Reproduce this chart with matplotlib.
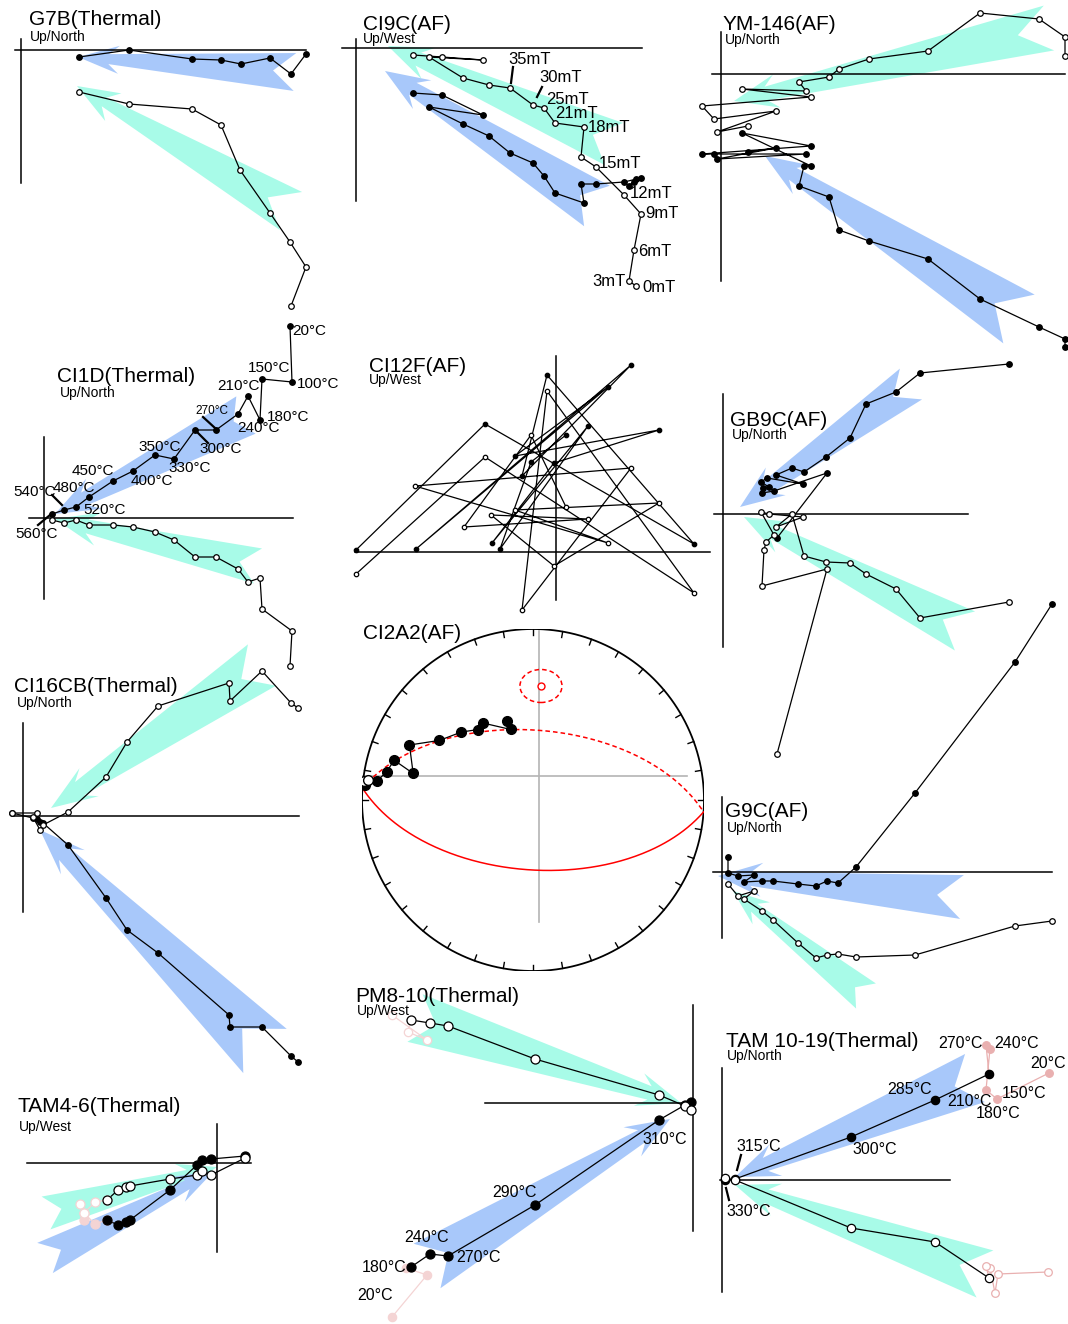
import numpy as np
import matplotlib
matplotlib.use("Agg")
import matplotlib.pyplot as plt
from matplotlib.patches import Polygon, Ellipse

plt.rcParams["font.family"] = ["Liberation Sans", "DejaVu Sans"]

W, H = 1068, 1324
BLUE = "#a8c8fa"
AQUA = "#a8fbe8"
PINK = "#e9b0b0"
PALE = "#f4d4d4"

# ---- demagnetisation data (projection units, origin at axis crossing) ----
# G7B (thermal)
g7b_hx = [58, 108, 171, 200, 220, 249, 270, 285]
g7b_hy = [-7, 0, -9, -10, -14, -8, -24, -4]
g7b_vx = [58, 108, 171, 200, 219, 249, 269, 285, 270]
g7b_vy = [-42, -54, -59, -75, -120, -163, -192, -217, -256]

# CI9C (AF), 0 mT first
ci9c_x = [280, 273, 278, 285, 268, 240, 225, 228, 199, 188, 177, 154, 133, 107, 73, 127, 86, 57]
ci9c_hy = [-131, -138, -134, -130, -134, -136, -136, -155, -145, -128, -115, -105, -88, -76, -59, -67, -47, -45]
ci9c_vy = [-238, -233, -202, -166, -147, -119, -109, -79, -75, -60, -57, -40, -37, -30, -9, -12, -9, -7]

# YM-146 (AF)
ym_hx = [344, 344, 318, 259, 207, 148, 118, 108, 78, 83, 90, 21, 90, -19, -7, 85, -4, 55, 27]
ym_hy = [-273, -265, -253, -225, -185, -167, -156, -123, -112, -92, -92, -59, -72, -80, -80, -80, -85, -74, -78]
ym_vx = [344, 344, 318, 259, 207, 148, 118, 108, 78, 85, 21, 90, -19, -7, 55, -4, 27]
ym_vy = [18, 37, 55, 61, 23, 15, 5, -3, -8, -17, -15, -23, -32, -45, -37, -58, -52]

# CI1D (thermal), 20 C first
ci1d_x = [246, 248, 218, 216, 204, 194, 172, 151, 130, 111, 89, 69, 45, 32, 20, 8]
ci1d_hy = [192, 136, 139, 98, 122, 104, 88, 88, 59, 63, 47, 37, 21, 11, 8, 4]
ci1d_vy = [-148, -113, -91, -60, -64, -51, -39, -39, -22, -14, -9, -7, -7, -2, -5, -2]

# CI12F (AF)
ci12_hx = [-200, -71, 138, -9, -34, 75, -140, 52, -41, 103, -2, -64, 32, -56, -25, 10]
ci12_hy = [2, 128, 8, 177, 76, 187, 3, 165, 96, 122, 89, 9, 126, 3, 90, 117]
ci12_vx = [-200, -71, 138, -9, -34, 75, -141, 52, -41, 103, -2, -65, 32, -92, -25, 10]
ci12_vy = [-22, 95, -41, 161, -58, 84, 66, 9, 42, 49, -14, 37, 33, 25, 117, 45]

# GB9C (AF)
gb_hx = [286, 197, 173, 143, 127, 103, 81, 69, 53, 80, 44, 38, 46, 40, 39, 51, 104, 54]
gb_hy = [150, 141, 122, 110, 76, 57, 42, 46, 39, 30, 36, 32, 27, 26, 21, 23, 41, -24]
gb_vx = [286, 197, 173, 143, 127, 103, 81, 69, 53, 80, 46, 38, 51, 43, 41, 39, 104, 54]
gb_vy = [-88, -104, -75, -60, -49, -48, -42, 0, -13, -3, 0, 2, -21, -28, -36, -72, -55, -240]

# CI16CB (thermal)
ci16_x = [275, 268, 239, 207, 206, 135, 104, 83, 45, 20, 17, 10, 14, -11]
ci16_hy = [-246, -240, -211, -211, -199, -137, -114, -82, -29, -7, -6, -2, -3, 3]
ci16_vy = [108, 113, 145, 115, 133, 110, 74, 39, 4, -9, -14, -1, 3, 3]

# CI2A2 (AF) directions
ci2_dec_up = [276.5, 277.0]
ci2_inc_up = [-0.5, -3.0]
ci2_dec = [275, 277, 281, 286, 282.5, 294, 302.5, 313.5, 322, 327, 342.5, 342]
ci2_inc = [1.6, 9, 14, 16.6, 29, 22, 35.4, 41.8, 46.6, 45.4, 54.4, 50]
ci2_pole = (4.0, 33.6)

# G9C (AF)
g9_hx = [330, 293, 193, 134, 116, 105, 94, 76, 51, 40, 22, 32, 16, 6, 6]
g9_hy = [268, 210, 79, 5, -11, -9, -14, -12, -9, -9, -10, -3, -4, -1, 15]
g9_vx = [330, 293, 193, 134, 116, 105, 94, 76, 51, 40, 22, 32, 16, 6]
g9_vy = [-49, -54, -83, -85, -82, -83, -86, -71, -48, -39, -27, -19, -24, -12]

# PM8-10 (thermal)
pm_x = [-282, -263, -245, -158, -34, -8, -2]
pm_hy = [-164, -151, -153, -102, -17, -2, 1]
pm_vy = [83, 80, 77, 44, 8, -3, -7]
pm_low_hx = [-301, -266, -287]
pm_low_hy = [-214, -172, -165]
pm_low_vx = [-301, -266, -285]
pm_low_vy = [88, 63, 71]

# TAM 10-19 (thermal)
tam_x = [267, 213, 129, 13, 3]
tam_hy = [106, 80, 43, 1, 0]
tam_vy = [-98, -62, -48, 0, 2]
tam_low_hx = [327, 275, 264, 268, 264]
tam_low_hy = [107, 81, 90, 131, 135]
tam_low_vx = [326, 276, 273, 268, 264]
tam_low_vy = [-92, -94, -113, -88, -86]

# TAM4-6 (thermal)
t46_x = [-110, -99, -91, -87, -47, -20, -15, -6, 28]
t46_hy = [-57, -62, -59, -57, -27, -2, 3, 4, 7]
t46_vy = [-37, -27, -24, -23, -16, -12, -8, -12, 5]
t46_low_hx = [-133, -133, -122]
t46_low_hy = [-57, -50, -61]
t46_low_vx = [-137, -133, -122]
t46_low_vy = [-41, -50, -39]

fig = plt.figure(figsize=(W / 100, H / 100), dpi=100)


def panel(ox, oy):
    # whole-figure axes in pixel units, origin at the axis crossing, y up
    ax = fig.add_axes([0, 0, 1, 1])
    ax.set_xlim(-ox, W - ox)
    ax.set_ylim(oy - H, oy)
    ax.set_axis_off()
    return ax


def cross(ax, x0, x1, y0, y1):
    ax.plot([x0, x1], [0, 0], color="black", lw=1.1, zorder=2)
    ax.plot([0, 0], [y0, y1], color="black", lw=1.1, zorder=2)


def arrow(ax, tip, tail, half_w, color, notch=22, head_len=44, head_w=17, neck=7):
    tip = np.asarray(tip, float)
    tail = np.asarray(tail, float)
    d = tip - tail
    u = d / np.hypot(*d)
    n = np.array([-u[1], u[0]])
    base = tip - u * head_len
    inner = tip - u * head_len * 0.75
    pts = [tip, base + n * head_w, inner + n * neck, tail + n * half_w,
           tail + u * notch, tail - n * half_w, inner - n * neck, base - n * head_w]
    ax.add_patch(Polygon(pts, closed=True, fc=color, ec="none", zorder=1))


def series(ax, x, y, filled, ms=4.0, color="black", lw=0.9):
    ax.plot(x, y, color=color, lw=lw, zorder=3)
    ax.plot(x, y, "o", ms=ms, mfc=color if filled else "white", mec=color,
            mew=0.9, zorder=4, ls="none")


def txt(x, y, s, size=11, ha="left"):
    fig.text(x / W, 1 - y / H, s, fontsize=size, ha=ha, va="center")


def tick(x0, y0, x1, y1):
    fig.add_artist(plt.Line2D([x0 / W, x1 / W], [1 - y0 / H, 1 - y1 / H],
                              color="black", lw=1.6))


def title(x, y, name, sub=None, sx=None, sy=None):
    txt(x, y, name, 15)
    if sub:
        txt(sx, sy, sub, 10)


# ---- G7B ----
ax = panel(21, 50)
arrow(ax, (57, -7), (274, -22), 19, BLUE, notch=22, head_len=41, head_w=14, neck=5)
arrow(ax, (56, -36), (270, -161), 22, AQUA, notch=27, head_len=42, head_w=16, neck=5)
cross(ax, -6, 285, 11, -133)
series(ax, g7b_hx, g7b_hy, True)
series(ax, g7b_vx, g7b_vy, False)
title(29, 19.5, "G7B(Thermal)", "Up/North", 30, 36.5)

# ---- CI9C ----
ax = panel(356, 48)
arrow(ax, (29, -23), (241, -158), 24, BLUE, notch=20)
arrow(ax, (32, 2), (258, -96), 23, AQUA, notch=23)
cross(ax, -14, 286, 9, -153)
series(ax, ci9c_x, ci9c_hy, True)
series(ax, ci9c_x, ci9c_vy, False)
title(363, 24, "CI9C(AF)", "Up/West", 363, 39.5)
for s, x, y in [("35mT", 508, 59), ("30mT", 539, 77), ("25mT", 546, 99),
                ("21mT", 555, 113), ("18mT", 588, 127), ("15mT", 599, 164),
                ("12mT", 630, 194), ("9mT", 645, 214), ("6mT", 638, 251),
                ("0mT", 642, 287)]:
    txt(x, y, s, 12)
txt(626, 281, "3mT", 12, ha="right")
tick(513, 67, 511, 83)
tick(542, 87, 537, 97)

# ---- YM-146 ----
ax = panel(721, 74)
arrow(ax, (13, -27), (328, 46), 23, AQUA, notch=32)
arrow(ax, (44, -82), (298, -245), 29, BLUE, notch=29)
cross(ax, -9, 344, 42, -207)
series(ax, ym_hx, ym_hy, True)
series(ax, ym_vx, ym_vy, False)
title(723, 24, "YM-146(AF)", "Up/North", 725, 40)

# ---- CI1D ----
ax = panel(44, 518)
arrow(ax, (11, 4), (202, 103), 21, BLUE, notch=14)
arrow(ax, (11, -1), (214, -48), 18, AQUA, notch=19)
cross(ax, -15, 249, 81, -81)
series(ax, ci1d_x, ci1d_hy, True)
series(ax, ci1d_x, ci1d_vy, False)
title(57, 376.5, "CI1D(Thermal)", "Up/North", 60, 393)
for s, x, y in [("20°C", 292, 331), ("150°C", 248, 368), ("100°C", 297, 384),
                ("210°C", 217, 386), ("180°C", 267, 417), ("240°C", 237, 428),
                ("300°C", 199, 449), ("350°C", 138, 447), ("330°C", 168, 468),
                ("450°C", 72, 471), ("400°C", 131, 481), ("540°C", 13, 492),
                ("480°C", 53, 487.5), ("520°C", 83, 510), ("560°C", 15, 534)]:
    txt(x, y, s, 11)
txt(195, 411.5, "270°C", 8.5)
tick(203, 417, 215, 428)
tick(198, 433, 208, 443)
tick(52, 495, 62, 505)
tick(38, 525, 50, 515)

# ---- CI12F ----
ax = panel(556, 552)
cross(ax, -201, 154, 196, -48)
series(ax, ci12_hx, ci12_hy, True, ms=3.2)
series(ax, ci12_vx, ci12_vy, False, ms=3.2)
title(369, 366, "CI12F(AF)", "Up/West", 369, 380)

# ---- GB9C ----
ax = panel(723, 514)
arrow(ax, (21, -3), (242, -117), 22, AQUA, notch=25)
arrow(ax, (17, 7), (188, 130), 19, BLUE, notch=22)
cross(ax, -9, 245, 120, -133)
series(ax, gb_hx, gb_hy, True)
series(ax, gb_vx, gb_vy, False)
title(730, 421, "GB9C(AF)", "Up/North", 732, 435.5)

# ---- CI16CB ----
ax = panel(23, 816)
arrow(ax, (28, 8), (239, 151), 25, AQUA, notch=25, head_len=46, neck=8)
arrow(ax, (17, -14), (242, -235), 31, BLUE, notch=32, head_len=46, neck=8)
cross(ax, -10, 276, 93, -96)
series(ax, ci16_x, ci16_hy, True)
series(ax, ci16_x, ci16_vy, False)
title(14, 686, "CI16CB(Thermal)", "Up/North", 17, 702.5)

# ---- G9C ----
ax = panel(722, 872)
arrow(ax, (-4, -4), (240, -25), 22, BLUE, notch=25)
arrow(ax, (11, -19), (144, -124), 16, AQUA, notch=14, head_len=36, head_w=14, neck=5)
cross(ax, -9, 330, 75, -66)
series(ax, g9_hx, g9_hy, True)
series(ax, g9_vx, g9_vy, False)
title(725, 811.5, "G9C(AF)", "Up/North", 727, 828)

# ---- PM8-10 ----
ax = panel(693, 1103)
arrow(ax, (-12, 0), (-278, 85), 25, AQUA, notch=22)
arrow(ax, (-23, -16), (-266, -163), 26, BLUE, notch=25)
cross(ax, -208, 0, 98, -128)
series(ax, pm_low_hx + pm_x[:1], pm_low_hy + pm_hy[:1], True, ms=6, color=PALE)
series(ax, pm_low_vx + pm_x[:1], pm_low_vy + pm_vy[:1], False, ms=6, color=PALE)
series(ax, pm_x, pm_hy, True, ms=6.5)
series(ax, pm_x, pm_vy, False, ms=6.5)
title(355, 996, "PM8-10(Thermal)", "Up/West", 357, 1011.5)
for s, x, y in [("310°C", 642, 1139), ("290°C", 492, 1192.5), ("240°C", 404, 1238),
                ("270°C", 456, 1257.5), ("180°C", 362, 1267.5), ("20°C", 357, 1296)]:
    txt(x, y, s, 11.5)

# ---- TAM 10-19 ----
ax = panel(722, 1180)
arrow(ax, (13, 3), (253, 102), 26, BLUE, notch=22)
arrow(ax, (13, -5), (263, -94), 25, AQUA, notch=27)
cross(ax, -2, 228, 112, -112)
series(ax, tam_low_hx + tam_x[:1], tam_low_hy + tam_hy[:1], True, ms=5.5, color=PINK)
series(ax, tam_low_vx + tam_x[:1], tam_low_vy + tam_vy[:1], False, ms=5.5, color=PINK)
series(ax, tam_x, tam_hy, True, ms=6)
series(ax, tam_x, tam_vy, False, ms=6)
title(726, 1041.5, "TAM 10-19(Thermal)", "Up/North", 727, 1056)
for s, x, y in [("270°C", 938, 1044), ("240°C", 994, 1044), ("20°C", 1030, 1063.5),
                ("285°C", 887, 1089), ("150°C", 1002, 1093.5), ("210°C", 947, 1101.7),
                ("180°C", 976, 1113), ("300°C", 852, 1150), ("315°C", 736, 1146.7),
                ("330°C", 726, 1212)]:
    txt(x, y, s, 11.5)
tick(741, 1155, 737, 1170)
tick(726, 1188, 729, 1200)

# ---- TAM4-6 ----
ax = panel(217, 1163)
arrow(ax, (0, -4), (-171, -50), 17, AQUA, notch=16, head_len=40, head_w=14, neck=5)
arrow(ax, (-3, -8), (-172, -95), 17, BLUE, notch=18, head_len=40, head_w=14, neck=5)
cross(ax, -190, 34, 39, -89)
series(ax, t46_low_hx + t46_x[:1], t46_low_hy + t46_hy[:1], True, ms=6.5, color=PALE)
series(ax, t46_low_vx + t46_x[:1], t46_low_vy + t46_vy[:1], False, ms=6.5, color=PALE)
series(ax, t46_x, t46_hy, True, ms=6.5)
series(ax, t46_x, t46_vy, False, ms=6.5)
title(17, 1107, "TAM4-6(Thermal)", "Up/West", 19, 1126.5)

# ---- CI2A2 equal-area net ----
cx, cy, R = 533, 800, 171
sx = fig.add_axes([(cx - R) / W, (H - cy - R) / H, 2 * R / W, 2 * R / H])
sx.set_xlim(-1, 1)
sx.set_ylim(-1, 1)
sx.set_axis_off()


def eqarea(dec, inc):
    dec = np.radians(np.asarray(dec, float))
    r = np.sqrt(2) * np.sin(np.radians(90 - np.abs(np.asarray(inc, float))) / 2)
    return r * np.sin(dec), r * np.cos(dec)


t = np.linspace(0, 2 * np.pi, 400)
sx.plot(np.cos(t), np.sin(t), color="black", lw=1.3, zorder=2)
for a in np.radians(np.arange(0, 360, 10)):
    sx.plot([np.sin(a), 0.965 * np.sin(a)], [np.cos(a), 0.965 * np.cos(a)],
            color="black", lw=1.0)
sx.plot([0.037, 0.037], [0.99, -0.713], color="#b4b4b4", lw=1.2, zorder=1)
sx.plot([-0.994, 0.90], [0.142, 0.142], color="#b4b4b4", lw=1.2, zorder=1)

# great circle normal to the pole: lower half solid, upper half dashed
pd, pi_ = np.radians(ci2_pole[0]), np.radians(ci2_pole[1])
P = np.array([np.cos(pi_) * np.cos(pd), np.cos(pi_) * np.sin(pd), np.sin(pi_)])
A = np.array([-np.sin(pd), np.cos(pd), 0.0])
B = np.cross(P, A)
for rng in [np.linspace(0, np.pi, 200), np.linspace(np.pi, 2 * np.pi, 200)]:
    v = np.outer(np.cos(rng), A) + np.outer(np.sin(rng), B)
    ls = "-" if v[len(v) // 2, 2] >= 0 else (0, (3, 2))
    dec = np.degrees(np.arctan2(v[:, 1], v[:, 0]))
    inc = np.degrees(np.arcsin(np.clip(v[:, 2], -1, 1)))
    gx, gy = eqarea(dec, inc)
    sx.plot(gx, gy, color="red", lw=1.1, ls=ls, zorder=3)

px, py = eqarea(ci2_pole[0], ci2_pole[1])
sx.plot(px, py, "o", ms=5, mfc="white", mec="red", mew=1.0, zorder=4)
sx.add_patch(Ellipse((px, py), 0.246, 0.193, fill=False, ec="red", lw=1.1,
                     ls=(0, (3, 2)), zorder=4))

ux, uy = eqarea(ci2_dec_up, ci2_inc_up)
fx, fy = eqarea(ci2_dec, ci2_inc)
sx.plot(np.r_[ux, fx], np.r_[uy, fy], color="black", lw=0.9, zorder=5)
sx.plot(fx, fy, "o", ms=7, mfc="black", mec="black", zorder=6, ls="none")
sx.plot(ux, uy, "o", ms=7, mfc="white", mec="black", mew=1.0, zorder=6, ls="none")
txt(363, 633.5, "CI2A2(AF)", 15)

fig.savefig("out.png", dpi=100)
